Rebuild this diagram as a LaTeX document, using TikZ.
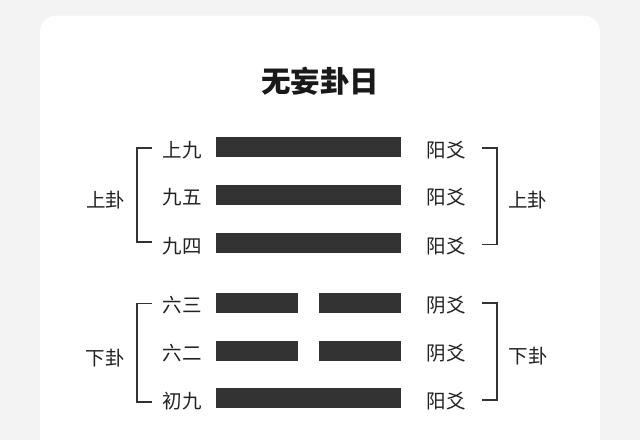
\documentclass[tikz,border=0pt]{standalone}
\usepackage{fontspec}
\setmainfont{Noto Sans CJK SC}
\usetikzlibrary{positioning}
\usepackage{xcolor}
\definecolor{bargray}{HTML}{333333}
\definecolor{pagegray}{HTML}{F3F3F3}
\definecolor{inkgray}{HTML}{222222}

\tikzset{
  yang/.style={fill=bargray,minimum width=184.7pt,minimum height=20pt,inner sep=0pt},
  yin/.style={fill=bargray,minimum width=82pt,minimum height=20pt,inner sep=0pt},
  yaotext/.style={font=\fontsize{19.5pt}{20pt}\selectfont,text=inkgray,inner sep=0pt,anchor=base},
  guatext/.style={font=\fontsize{19.5pt}{20pt}\selectfont,text=inkgray,inner sep=0pt,anchor=base},
  bracket/.style={draw=bargray,line width=1.6pt}
}

\begin{document}
\begin{tikzpicture}[x=1pt,y=-1pt]
\useasboundingbox (0,0) rectangle (640,440);
\clip (0,0) rectangle (640,440);
\fill[pagegray] (0,0) rectangle (640,440);
\fill[white,rounded corners=16pt] (40,15.5) rectangle (600,480);

\node[font=\fontsize{29.5pt}{30pt}\selectfont\bfseries,text=black!90,inner sep=0pt,anchor=base] (title) at (320,92) {无妄卦日};

\node[yang] (bar6) at (308.4,147.3) {};
\node[yang] (bar5) at (308.4,195) {};
\node[yang] (bar4) at (308.4,243.3) {};
\node[yin] (bar3l) at (257,302.7) {};
\node[yin,right=20.7pt of bar3l] (bar3r) {};
\node[yin] (bar2l) at (257,350.7) {};
\node[yin,right=20.7pt of bar2l] (bar2r) {};
\node[yang] (bar1) at (308.4,398.3) {};

\node[yaotext] (name6) at (182,157) {上九};
\node[yaotext] (name5) at (182,204.7) {九五};
\node[yaotext] (name4) at (182,253) {九四};
\node[yaotext] (name3) at (182,312.4) {六三};
\node[yaotext] (name2) at (182,360.4) {六二};
\node[yaotext] (name1) at (182,408) {初九};

\node[yaotext] (kind6) at (446,157) {阳爻};
\node[yaotext] (kind5) at (446,204.7) {阳爻};
\node[yaotext] (kind4) at (446,253) {阳爻};
\node[yaotext] (kind3) at (446,312.4) {阴爻};
\node[yaotext] (kind2) at (446,360.4) {阴爻};
\node[yaotext] (kind1) at (446,408) {阳爻};

\node[guatext] (upleft) at (105.5,207.5) {上卦};
\node[guatext] (lowleft) at (105,365.5) {下卦};
\node[guatext] (upright) at (527.5,207.5) {上卦};
\node[guatext] (lowright) at (528,363) {下卦};

\coordinate (ula) at (152,148);
\coordinate (ulb) at (152,242);
\coordinate (lla) at (152,303.5);
\coordinate (llb) at (152,402);
\coordinate (ura) at (482,147.7);
\coordinate (urb) at (482,244.5);
\coordinate (lra) at (482,302.7);
\coordinate (lrb) at (482,400);

\draw[bracket] (ula) -| ([xshift=-15pt]ulb) -- (ulb);
\draw[bracket] (lla) -| ([xshift=-15pt]llb) -- (llb);
\draw[bracket] (ura) -| ([xshift=15pt]urb) -- (urb);
\draw[bracket] (lra) -| ([xshift=15pt]lrb) -- (lrb);
\end{tikzpicture}
\end{document}
